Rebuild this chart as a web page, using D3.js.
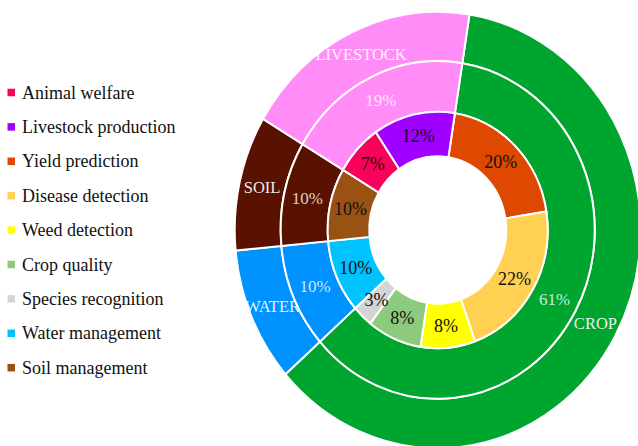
<!DOCTYPE html>
<html>
<head>
<meta charset="utf-8">
<script src="https://cdn.jsdelivr.net/npm/d3@7"></script>
<style>
  body { margin: 0; background: #fff; }
  text { font-family: "Liberation Serif", "DejaVu Serif", serif; }
</style>
</head>
<body>
<script>
// inner ring, clockwise from the top
const subNames = ["Yield prediction", "Disease detection", "Weed detection", "Crop quality",
    "Species recognition", "Water management", "Soil management", "Animal welfare", "Livestock production"];
const subValues = [20, 22, 8, 8, 3, 10, 10, 7, 12];
const subColors = ["#DF4800", "#FFD052", "#FFFF00", "#8CCB7E", "#D4D4D4", "#00C2FF", "#9A5212", "#F7035B", "#9F00FF"];

// middle + outer rings
const groupNames = ["CROP", "WATER", "SOIL", "LIVESTOCK"];
const groupValues = [61, 10, 10, 19];
const groupColors = ["#00A52F", "#0092FF", "#5A1200", "#FF8CF7"];

const legendNames = ["Animal welfare", "Livestock production", "Yield prediction", "Disease detection",
    "Weed detection", "Crop quality", "Species recognition", "Water management", "Soil management"];

const W = 638, H = 446;
const cx = 437.7, cy = 230, stretch = 1.075;   // picture is a bit taller than wide
const r0 = 68.5, r1 = 110, r2 = 157, r3 = 203;
const start = 9 * Math.PI / 180;

const svg = d3.select("body").append("svg")
    .attr("width", W)
    .attr("height", H);

const colorOf = d3.scaleOrdinal().domain(subNames).range(subColors);
const groupColor = d3.scaleOrdinal().domain(groupNames).range(groupColors);

const pie = d3.pie().sort(null).value(d => d.v)
    .startAngle(start).endAngle(start + 2 * Math.PI);
const subArcs = pie(subNames.map((n, i) => ({ n, v: subValues[i] })));
const groupArcs = pie(groupNames.map((n, i) => ({ n, v: groupValues[i] })));

const arcInner = d3.arc().innerRadius(r0).outerRadius(r1);
const arcMid = d3.arc().innerRadius(r1).outerRadius(r2);
const arcOut = d3.arc().innerRadius(r2).outerRadius(r3);

function pos(arc, d) {
    const c = arc.centroid(d);
    return [c[0], c[1] * stretch];
}

function ring(arc, data, fill) {
    svg.append("g")
        .attr("transform", `translate(${cx},${cy}) scale(1,${stretch})`)
        .selectAll("path")
        .data(data)
        .join("path")
        .attr("d", arc)
        .attr("fill", fill)
        .attr("stroke", "#fff")
        .attr("stroke-width", 2)
        .attr("vector-effect", "non-scaling-stroke");
}

function ringLabels(arc, data, text, fill, opacity, size) {
    svg.append("g")
        .attr("transform", `translate(${cx},${cy})`)
        .selectAll("text")
        .data(data)
        .join("text")
        .attr("x", d => pos(arc, d)[0])
        .attr("y", d => pos(arc, d)[1])
        .attr("text-anchor", "middle")
        .attr("dominant-baseline", "central")
        .attr("fill", fill)
        .attr("fill-opacity", opacity)
        .style("font-size", size)
        .text(text);
}

// outer ring first, its labels sit under the middle ring
ring(arcOut, groupArcs, d => groupColor(d.data.n));
ringLabels(arcOut, groupArcs, d => d.data.n, "#fff", 0.92, "16.5px");

ring(arcMid, groupArcs, d => groupColor(d.data.n));
ring(arcInner, subArcs, d => colorOf(d.data.n));

ringLabels(arcMid, groupArcs, d => d.data.v + "%", "#fff", 0.8, "17px");
ringLabels(arcInner, subArcs, d => d.data.v + "%", "#111", 1, "18px");

// legend
const legend = svg.append("g").selectAll("g")
    .data(legendNames)
    .join("g")
    .attr("transform", (d, i) => `translate(7.5, ${92.5 + i * 34.4})`);
legend.append("rect")
    .attr("y", -3.75)
    .attr("width", 7.5)
    .attr("height", 7.5)
    .attr("fill", d => colorOf(d));
legend.append("text")
    .attr("x", 14.5)
    .attr("dominant-baseline", "central")
    .attr("fill", "#111")
    .style("font-size", "18px")
    .text(d => d);
</script>
</body>
</html>
